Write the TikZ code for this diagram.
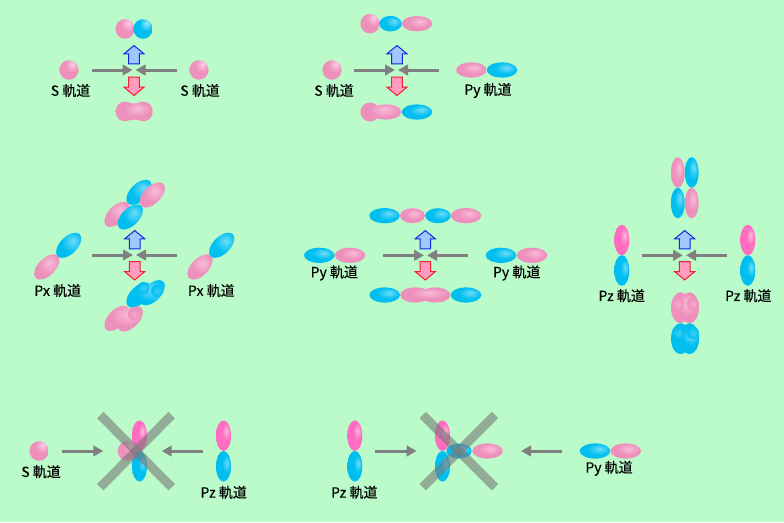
\documentclass[tikz,border=0pt]{standalone}
\usepackage{fontspec}
\usepackage{xcolor}
\usepackage{tikz}
\usetikzlibrary{arrows.meta}
\newfontfamily\cjk[FakeBold=0.25]{Noto Sans CJK JP}
\definecolor{bgreen}{HTML}{BBFBC9}
\definecolor{pinkhi}{HTML}{F8BCD8}
\definecolor{pinkmain}{HTML}{EE90BC}
\definecolor{pinkdark}{HTML}{DC80AC}
\definecolor{bluehi}{HTML}{70DCFA}
\definecolor{bluemain}{HTML}{00BFF0}
\definecolor{bluedark}{HTML}{009CCC}
\definecolor{zpinkmain}{HTML}{FF6CC0}
\definecolor{uplight}{HTML}{A0C8FF}
\definecolor{upline}{HTML}{1028E0}
\definecolor{downlight}{HTML}{FF9CC0}
\definecolor{downline}{HTML}{F02030}
\pgfdeclareradialshading{pinklobe}{\pgfpoint{5bp}{8bp}}{color(0bp)=(pinkhi); color(18bp)=(pinkmain); color(45bp)=(pinkmain); color(60bp)=(pinkdark)}
\pgfdeclareradialshading{bluelobe}{\pgfpoint{8bp}{8bp}}{color(0bp)=(bluehi); color(18bp)=(bluemain); color(45bp)=(bluemain); color(60bp)=(bluedark)}
\pgfdeclareradialshading{pinkball}{\pgfpoint{10bp}{16bp}}{color(0bp)=(pinkhi!60!white); color(5bp)=(pinkhi); color(18bp)=(pinkmain); color(50bp)=(pinkmain); color(75bp)=(pinkdark)}
\pgfdeclareradialshading{blueball}{\pgfpoint{10bp}{16bp}}{color(0bp)=(bluehi!60!white); color(5bp)=(bluehi); color(18bp)=(bluemain); color(50bp)=(bluemain); color(75bp)=(bluedark)}
\pgfdeclareradialshading{zpink}{\pgfpoint{10bp}{8bp}}{color(0bp)=(pinkhi); color(14bp)=(zpinkmain); color(50bp)=(zpinkmain); color(70bp)=(zpinkmain)}
\pgfdeclareradialshading{zblue}{\pgfpoint{12bp}{5bp}}{color(0bp)=(bluehi); color(14bp)=(bluemain); color(35bp)=(bluemain); color(60bp)=(bluedark)}
\tikzset{
  orblabel/.style={font=\cjk\fontsize{14}{14}\selectfont, inner sep=0},
  grayarrow/.style={draw=gray, line width=3, -{Triangle[length=10,width=10.5]}},
  uparrow/.style={draw=upline, line width=1, fill=uplight},
  downarrow/.style={draw=downline, line width=1, fill=downlight},
  crossbar/.style={draw=black!53, line width=9, opacity=.6}
}
% block arrows, #1 is the centre and #2 the height of the tip
\newcommand{\bigup}[2]{\filldraw[uparrow] (#1,#2) --++(10,8.3) --++(-4.7,0) --++(0,10) --++(-10.6,0) --++(0,-10) --++(-4.7,0) -- cycle;}
\newcommand{\bigdown}[2]{\filldraw[downarrow] (#1,#2) --++(10,-8.3) --++(-4.7,0) --++(0,-10) --++(-10.6,0) --++(0,10) --++(-4.7,0) -- cycle;}
\newcommand{\xlobe}[3]{\shade[shading=#3] (#1,#2) ellipse (15.3 and 7.6);}
\newcommand{\zlobe}[3]{\shade[shading=#3] (#1,#2) ellipse (7.5 and 15.3);}
\newcommand{\tlobe}[3]{\shade[shading=#3] (#1,#2) ellipse [x radius=15.7, y radius=8.6, rotate=45];}
\newcommand{\ball}[3]{\shade[shading=#3] (#1,#2) ellipse (9.6 and 9.8);}
\newcommand{\glint}[4]{\shade[inner color=#4hi!55!#4main, outer color=#4main] (#1,#2) circle (#3);}

\begin{document}
\begin{tikzpicture}[x=1pt, y=-1pt]
\useasboundingbox (0,0) rectangle (784,522);
\fill[bgreen] (0,0) rectangle (784,522);

% S + S
\ball{69}{70}{pinkball}
\ball{199}{70}{pinkball}
\ball{125}{29}{pinkball}
\ball{143}{29}{blueball}
\shade[shading=pinklobe] (115.7,111.5) .. controls (115.7,105) and (120,101.7) .. (125,101.7)
  .. controls (129,101.7) and (130,103.5) .. (134,103.5) .. controls (138,103.5) and (139,101.7) .. (143,101.7)
  .. controls (148,101.7) and (152.7,105) .. (152.7,111.5) .. controls (152.7,118) and (148,121.2) .. (143,121.2)
  .. controls (139,121.2) and (138,119.5) .. (134,119.5) .. controls (130,119.5) and (129,121.2) .. (125,121.2)
  .. controls (120,121.2) and (115.7,118) .. (115.7,111.5) -- cycle;
\node[orblabel] (sa) at (70.5,90.5) {S 軌道};
\node[orblabel] (sb) at (200,90.5) {S 軌道};
\coordinate (sal) at (92,70);
\coordinate (sam) at (132.5,70);
\coordinate (sbr) at (177,70);
\coordinate (sbm) at (135.5,70);
\draw[grayarrow] (sal) -- (sam);
\draw[grayarrow] (sbr) -- (sbm);
\bigup{134}{45.5}
\bigdown{134}{95.5}

% S + Py
\ball{332}{70}{pinkball}
\xlobe{471.3}{70}{pinklobe}
\xlobe{502}{70}{bluelobe}
\ball{370}{23.7}{pinkball}
\shade[shading=bluelobe] (390.5,23.7) ellipse (11.2 and 7.8);
\xlobe{417}{23.7}{pinklobe}
\shade[shading=pinklobe] (370,112) circle (9.6) (386,112) ellipse (15.3 and 7.6);
\xlobe{417}{112}{bluelobe}
\node[orblabel] (sc) at (334,90.5) {S 軌道};
\node[orblabel] (pya) at (488,90.5) {Py 軌道};
\coordinate (scl) at (354,70);
\coordinate (scm) at (395,70);
\coordinate (pyr) at (439,70);
\coordinate (pym) at (398,70);
\draw[grayarrow] (scl) -- (scm);
\draw[grayarrow] (pyr) -- (pym);
\bigup{397}{45.5}
\bigdown{397}{95.5}

% Px + Px
\tlobe{46.7}{267}{pinklobe}
\tlobe{68.7}{245.3}{bluelobe}
\tlobe{200}{267}{pinklobe}
\tlobe{221.7}{245.3}{bluelobe}
\tlobe{139}{192.3}{bluelobe}
\tlobe{152.3}{195}{pinklobe}
\tlobe{117}{214.3}{pinklobe}
\tlobe{130.3}{217}{bluelobe}
\shade[shading=bluelobe] (139,295) ellipse [x radius=15.7, y radius=8.6, rotate=45]
  (152.3,292.7) ellipse [x radius=15.7, y radius=8.6, rotate=45];
\glint{143.5}{288}{6}{blue}
\glint{157}{291}{6}{blue}
\shade[shading=pinklobe] (117,318.3) ellipse [x radius=15.7, y radius=8.6, rotate=45]
  (130.3,319) ellipse [x radius=15.7, y radius=8.6, rotate=45];
\glint{134}{314}{6}{pink}
\node[orblabel] (pxa) at (57.7,290.5) {Px 軌道};
\node[orblabel] (pxb) at (211.3,290.5) {Px 軌道};
\coordinate (pxl) at (92.3,255);
\coordinate (pxm) at (133,255);
\coordinate (pxr) at (176.7,255);
\coordinate (pxn) at (136,255);
\draw[grayarrow] (pxl) -- (pxm);
\draw[grayarrow] (pxr) -- (pxn);
\bigup{134.7}{230.5}
\bigdown{134.7}{280}

% Py + Py
\xlobe{319.3}{255.3}{bluelobe}
\xlobe{350}{255.3}{pinklobe}
\xlobe{501}{255.3}{bluelobe}
\xlobe{532}{255.3}{pinklobe}
\xlobe{384.5}{215.7}{bluelobe}
\shade[shading=pinklobe] (412.5,215.7) ellipse (12.5 and 7.5);
\shade[shading=bluelobe] (438,215.7) ellipse (12.7 and 7.5);
\xlobe{466}{215.7}{pinklobe}
\xlobe{384.7}{295}{bluelobe}
\shade[shading=pinklobe] (415.3,295) ellipse (15.1 and 7.6) (435.3,295) ellipse (15.1 and 7.6);
\xlobe{466}{295}{bluelobe}
\node[orblabel] (pyb) at (334.3,273) {Py 軌道};
\node[orblabel] (pyc) at (516.7,273) {Py 軌道};
\coordinate (qyl) at (383.3,255.3);
\coordinate (qym) at (424,255.3);
\coordinate (qyr) at (468,255.3);
\coordinate (qyn) at (427,255.3);
\draw[grayarrow] (qyl) -- (qym);
\draw[grayarrow] (qyr) -- (qyn);
\bigup{425.3}{230.5}
\bigdown{425.3}{280}

% Pz + Pz
\zlobe{621.8}{240}{zpink}
\zlobe{621.8}{270.5}{zblue}
\zlobe{747.8}{240}{zpink}
\zlobe{747.8}{270.5}{zblue}
\shade[shading=pinklobe] (677.8,172.5) ellipse (6.9 and 15.3);
\shade[shading=bluelobe] (691.7,172.5) ellipse (6.9 and 15.3);
\shade[shading=bluelobe] (677.8,203) ellipse (6.9 and 15.3);
\shade[shading=pinklobe] (691.7,203) ellipse (6.9 and 15.3);
\shade[shading=pinklobe] (680.5,307.8) ellipse (9.5 and 15.5) (689.5,307.8) ellipse (9.5 and 15.5);
\shade[shading=zblue] (680.5,338.7) ellipse (9.5 and 15.5) (689.5,338.7) ellipse (9.5 and 15.5);
\glint{678}{304}{6}{pink}
\glint{693}{304}{6}{pink}
\glint{678}{333}{6}{blue}
\glint{693}{333}{6}{blue}
\node[orblabel] (pza) at (621.7,295.7) {Pz 軌道};
\node[orblabel] (pzb) at (748.3,295.7) {Pz 軌道};
\coordinate (pzl) at (642.3,255.3);
\coordinate (pzm) at (683,255.3);
\coordinate (pzr) at (727,255.3);
\coordinate (pzn) at (686,255.3);
\draw[grayarrow] (pzl) -- (pzm);
\draw[grayarrow] (pzr) -- (pzn);
\bigup{684.7}{230.5}
\bigdown{684.7}{280}

% S + Pz, crossed out
\ball{39}{451}{pinkball}
\zlobe{139.5}{435.7}{zpink}
\zlobe{139.5}{466.3}{zblue}
\ball{127.3}{451}{pinkball}
\zlobe{223.5}{435.7}{zpink}
\zlobe{223.5}{466.3}{zblue}
\node[orblabel] (sd) at (41,471.7) {S 軌道};
\node[orblabel] (pzc) at (223.7,492.3) {Pz 軌道};
\coordinate (sdl) at (62,451);
\coordinate (sdm) at (103.3,451);
\coordinate (pzs) at (203,451);
\coordinate (pzt) at (161.7,451);
\draw[grayarrow] (sdl) -- (sdm);
\draw[grayarrow] (pzs) -- (pzt);
\coordinate (xa) at (100.3,415);
\coordinate (xb) at (171.7,487.3);
\coordinate (xc) at (171.7,415);
\coordinate (xd) at (100.3,487.3);
\draw[crossbar] (xa) -- (xb);
\draw[crossbar] (xc) -- (xd);

% Pz + Py, crossed out
\zlobe{354.8}{435.7}{zpink}
\zlobe{354.8}{466.3}{zblue}
\zlobe{442.5}{435.7}{zpink}
\zlobe{442.5}{466.3}{zblue}
\shade[shading=bluelobe] (459,451) ellipse (12.7 and 7.5);
\xlobe{487.5}{451}{pinklobe}
\xlobe{595}{451}{bluelobe}
\xlobe{625.7}{451}{pinklobe}
\node[orblabel] (pzd) at (354.3,492.3) {Pz 軌道};
\node[orblabel] (pyd) at (609,468.3) {Py 軌道};
\coordinate (pzu) at (375,451);
\coordinate (pzv) at (416.7,451);
\coordinate (pye) at (562.3,451);
\coordinate (pyf) at (521,451);
\draw[grayarrow] (pzu) -- (pzv);
\draw[grayarrow] (pye) -- (pyf);
\coordinate (xe) at (422.7,415);
\coordinate (xf) at (495,487.3);
\coordinate (xg) at (495,415);
\coordinate (xh) at (422.7,487.3);
\draw[crossbar] (xe) -- (xf);
\draw[crossbar] (xg) -- (xh);
\end{tikzpicture}
\end{document}
